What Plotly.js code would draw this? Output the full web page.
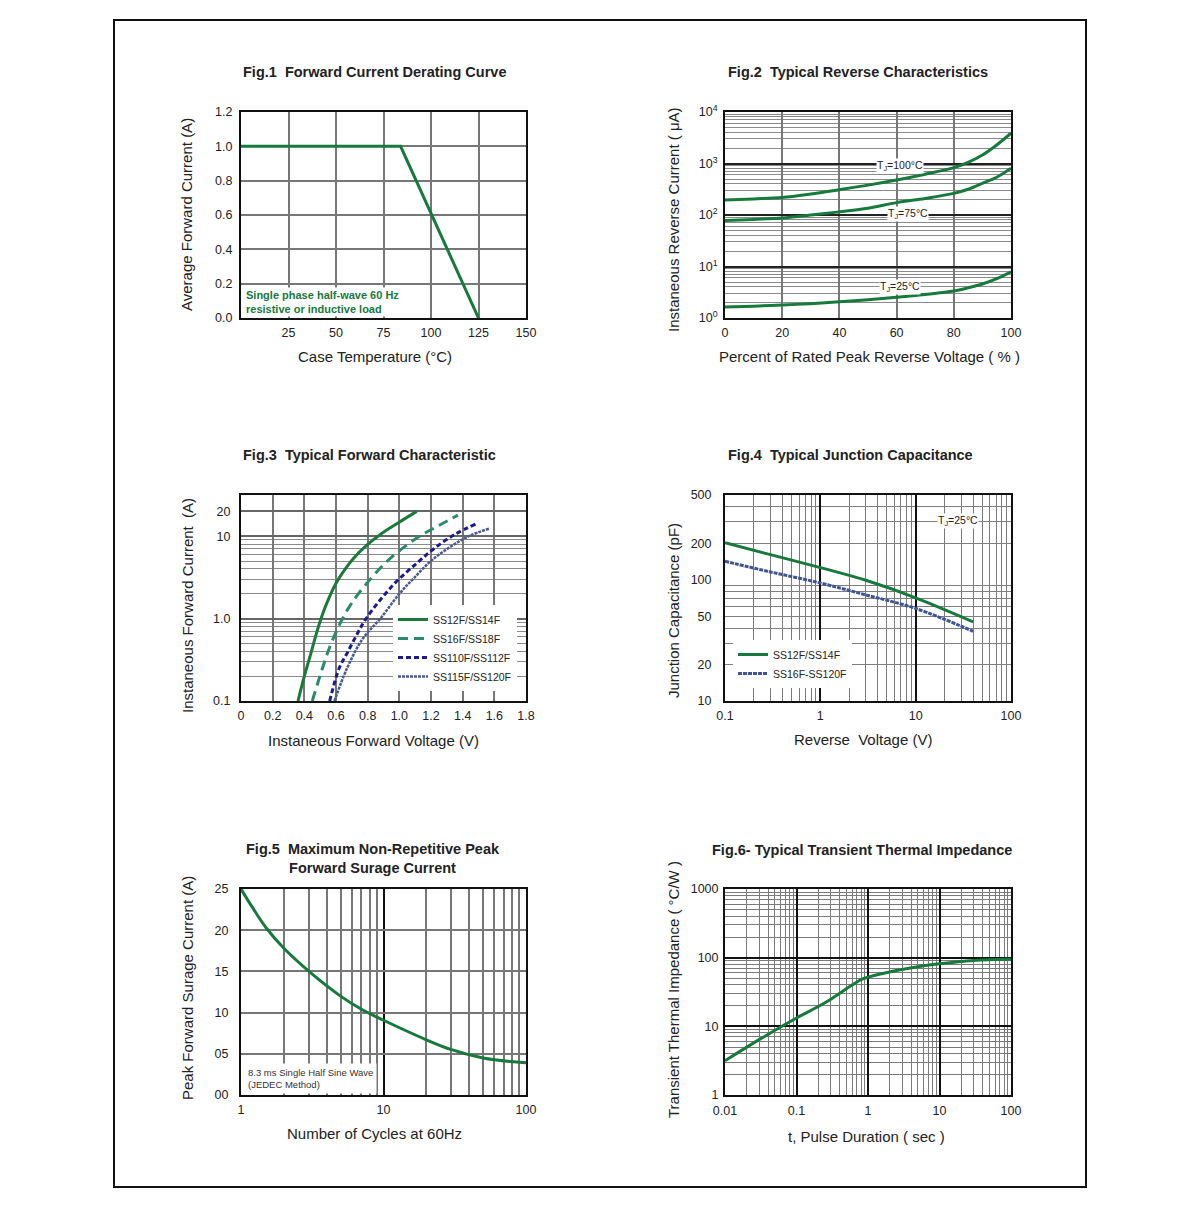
<!DOCTYPE html>
<html>
<head>
<meta charset="utf-8">
<script src="https://cdn.plot.ly/plotly-3.0.1.min.js"></script>
<style>html,body{margin:0;padding:0;background:#fff;}#chart{width:1200px;height:1214px;}</style>
</head>
<body>
<div id="chart"></div>
<script>
// ---------- DATA ----------
// Fig.1 Forward Current Derating Curve
const fig1Temp = [0, 84, 125];
const fig1Current = [1.0, 1.0, 0.0];
const fig1XTicks = [25, 50, 75, 100, 125, 150];
const fig1YTicks = [0, 0.2, 0.4, 0.6, 0.8, 1.0, 1.2];
const fig1YLabels = ['0.0', '0.2', '0.4', '0.6', '0.8', '1.0', '1.2'];

// Fig.2 Typical Reverse Characteristics
const fig2Pct = [0, 10, 20, 30, 40, 50, 60, 70, 80, 85, 90, 95, 100];
const fig2T100 = [195, 205, 218, 255, 310, 380, 478, 620, 830, 1050, 1460, 2290, 3870];
const fig2T75 = [78, 82, 87, 100, 115, 135, 174, 210, 263, 316, 413, 540, 810];
const fig2T25 = [1.64, 1.7, 1.78, 1.9, 2.07, 2.27, 2.52, 2.85, 3.33, 3.85, 4.57, 5.8, 7.9];
const fig2XTicks = [0, 20, 40, 60, 80, 100];
const fig2YTicks = [1, 10, 100, 1000, 10000];
const fig2YLabels = ['10<sup>0</sup>', '10<sup>1</sup>', '10<sup>2</sup>', '10<sup>3</sup>', '10<sup>4</sup>'];

// Fig.3 Typical Forward Characteristic
const fig3V_SS12 = [0.36, 0.40, 0.44, 0.47, 0.50, 0.54, 0.60, 0.65, 0.71, 0.80, 0.88, 1.00, 1.11];
const fig3I_SS12 = [0.1, 0.2, 0.37, 0.60, 0.93, 1.51, 2.69, 3.8, 5.37, 7.94, 10.5, 14.8, 20];
const fig3V_SS16 = [0.45, 0.52, 0.56, 0.62, 0.68, 0.75, 0.92, 1.11, 1.25, 1.37];
const fig3I_SS16 = [0.1, 0.27, 0.45, 0.83, 1.35, 2.1, 4.9, 9.5, 13.5, 18];
const fig3V_SS110 = [0.56, 0.62, 0.67, 0.73, 0.79, 0.96, 1.11, 1.22, 1.35, 1.49];
const fig3I_SS110 = [0.1, 0.25, 0.38, 0.63, 1.0, 2.55, 4.7, 7.1, 10.5, 14.3];
const fig3V_SS115 = [0.59, 0.67, 0.77, 0.88, 1.00, 1.09, 1.22, 1.43, 1.57];
const fig3I_SS115 = [0.1, 0.25, 0.575, 1.0, 2.0, 3.07, 5.4, 9.8, 12.4];
const fig3XTicks = [0, 0.2, 0.4, 0.6, 0.8, 1.0, 1.2, 1.4, 1.6, 1.8];
const fig3XLabels = ['0', '0.2', '0.4', '0.6', '0.8', '1.0', '1.2', '1.4', '1.6', '1.8'];
const fig3YTicks = [0.1, 1, 10, 20];
const fig3YLabels = ['0.1', '1.0', '10', '20'];
const fig3Names = ['SS12F/SS14F', 'SS16F/SS18F', 'SS110F/SS112F', 'SS115F/SS120F'];

// Fig.4 Typical Junction Capacitance
const fig4Volt = [0.1, 0.3, 1, 3, 10, 40];
const fig4SS12 = [202, 161, 126, 99, 71, 45];
const fig4SS16 = [142, 116, 94, 75, 58, 37.6];
const fig4XTicks = [0.1, 1, 10, 100];
const fig4YTicks = [10, 20, 50, 100, 200, 500];
const fig4Names = ['SS12F/SS14F', 'SS16F-SS120F'];

// Fig.5 Maximum Non-Repetitive Peak Forward Surge Current
const fig5Cycles = [1, 1.2, 1.5, 2, 3, 5, 7, 10, 20, 30, 50, 100];
const fig5Current = [25, 22.8, 20.3, 17.8, 15, 12, 10.4, 9.07, 6.7, 5.5, 4.5, 3.9];
const fig5XTicks = [1, 10, 100];
const fig5YTicks = [0, 5, 10, 15, 20, 25];
const fig5YLabels = ['00', '05', '10', '15', '20', '25'];

// Fig.6 Typical Transient Thermal Impedance
const fig6Time = [0.01, 0.03, 0.1, 0.25, 0.6, 0.8, 1, 2.3, 5, 10, 30, 100];
const fig6Z = [3.15, 6.4, 13.2, 22, 40, 48, 52, 64, 74, 81.6, 91, 94.6];
const fig6XTicks = [0.01, 0.1, 1, 10, 100];
const fig6YTicks = [1, 10, 100, 1000];

// ---------- LAYOUT HELPERS ----------
const W = 1200, H = 1214;
const FONT = 'Liberation Sans, Arial, Helvetica, sans-serif';
const GREEN = '#17793c';
function px(a) { return a / W; }
function py(b) { return 1 - b / H; }
function dx(a, b) { return [a / W, b / W]; }
function dy(top, bottom) { return [1 - bottom / H, 1 - top / H]; }
function logMinors(from, to) {
  const out = [];
  for (let e = from; e < to; e++) {
    for (let k = 2; k <= 9; k++) out.push(k * Math.pow(10, e));
  }
  return out;
}

const baseAxis = {
  showline: true, mirror: true, linecolor: '#111', linewidth: 2,
  ticks: '', zeroline: false, showgrid: true, fixedrange: true,
  tickfont: { family: FONT, size: 12.5, color: '#222' },
  gridcolor: '#777', gridwidth: 2, tickmode: 'array'
};
function ax(extra) { return Object.assign({}, baseAxis, extra); }

// ---------- TRACES ----------
const traces = [
  { x: fig1Temp, y: fig1Current, xaxis: 'x', yaxis: 'y', mode: 'lines',
    line: { color: GREEN, width: 3 }, showlegend: false },

  { x: fig2Pct, y: fig2T100, xaxis: 'x2', yaxis: 'y2', mode: 'lines',
    line: { color: GREEN, width: 3, shape: 'spline' }, showlegend: false },
  { x: fig2Pct, y: fig2T75, xaxis: 'x2', yaxis: 'y2', mode: 'lines',
    line: { color: GREEN, width: 3, shape: 'spline' }, showlegend: false },
  { x: fig2Pct, y: fig2T25, xaxis: 'x2', yaxis: 'y2', mode: 'lines',
    line: { color: GREEN, width: 3, shape: 'spline' }, showlegend: false },

  { x: fig3V_SS12, y: fig3I_SS12, xaxis: 'x3', yaxis: 'y3', mode: 'lines', name: fig3Names[0],
    line: { color: '#1a7a3a', width: 3, shape: 'spline' }, legend: 'legend' },
  { x: fig3V_SS16, y: fig3I_SS16, xaxis: 'x3', yaxis: 'y3', mode: 'lines', name: fig3Names[1],
    line: { color: '#2b8a6c', width: 3, dash: '10px,6px', shape: 'spline' }, legend: 'legend' },
  { x: fig3V_SS110, y: fig3I_SS110, xaxis: 'x3', yaxis: 'y3', mode: 'lines', name: fig3Names[2],
    line: { color: '#1b1b8e', width: 3, dash: '5px,3px', shape: 'spline' }, legend: 'legend' },
  { x: fig3V_SS115, y: fig3I_SS115, xaxis: 'x3', yaxis: 'y3', mode: 'lines', name: fig3Names[3],
    line: { color: '#4a5a8e', width: 2.5, dash: '3px,1px', shape: 'spline' }, legend: 'legend' },

  { x: fig4Volt, y: fig4SS12, xaxis: 'x4', yaxis: 'y4', mode: 'lines', name: fig4Names[0],
    line: { color: '#17793c', width: 3, shape: 'spline' }, legend: 'legend2' },
  { x: fig4Volt, y: fig4SS16, xaxis: 'x4', yaxis: 'y4', mode: 'lines', name: fig4Names[1],
    line: { color: '#3f5590', width: 3, dash: '4px,1px', shape: 'spline' }, legend: 'legend2' },

  { x: fig5Cycles, y: fig5Current, xaxis: 'x5', yaxis: 'y5', mode: 'lines',
    line: { color: GREEN, width: 3, shape: 'spline' }, showlegend: false },

  { x: fig6Time, y: fig6Z, xaxis: 'x6', yaxis: 'y6', mode: 'lines',
    line: { color: GREEN, width: 3, shape: 'spline' }, showlegend: false }
];

// ---------- AXES ----------
const layout = {
  width: W, height: H,
  margin: { l: 0, r: 0, t: 0, b: 0 },
  paper_bgcolor: '#fff', plot_bgcolor: '#fff',
  font: { family: FONT, color: '#222' },
  showlegend: true,

  xaxis: ax({ domain: dx(241, 526), anchor: 'y', range: [0, 150], tickvals: fig1XTicks,
    ticklabelstandoff: 2 }),
  yaxis: ax({ domain: dy(112, 318), anchor: 'x', range: [0, 1.2], tickvals: fig1YTicks,
    ticktext: fig1YLabels, ticklabelstandoff: 4 }),

  xaxis2: ax({ domain: dx(725, 1011), anchor: 'y2', range: [0, 100], tickvals: fig2XTicks,
    ticklabelstandoff: 2 }),
  yaxis2: ax({ domain: dy(112, 318), anchor: 'x2', type: 'log', range: [0, 4], tickvals: fig2YTicks,
    ticktext: fig2YLabels, gridcolor: '#222', gridwidth: 1.5, ticklabelstandoff: 3,
    minor: { tickmode: 'array', tickvals: logMinors(0, 4), showgrid: true, gridcolor: '#8a8a8a', gridwidth: 1 } }),

  xaxis3: ax({ domain: dx(241, 526), anchor: 'y3', range: [0, 1.8], tickvals: fig3XTicks,
    ticktext: fig3XLabels, ticklabelstandoff: 2 }),
  yaxis3: ax({ domain: dy(495, 701), anchor: 'x3', type: 'log', range: [-1, 1.5], tickvals: fig3YTicks,
    ticktext: fig3YLabels, gridcolor: '#666', gridwidth: 1.5, ticklabelstandoff: 6,
    minor: { tickmode: 'array', tickvals: logMinors(-1, 1), showgrid: true, gridcolor: '#8a8a8a', gridwidth: 1 } }),

  xaxis4: ax({ domain: dx(725, 1011), anchor: 'y4', type: 'log', range: [-1, 2], tickvals: fig4XTicks,
    ticktext: ['0.1', '1', '10', '100'], gridcolor: '#111', gridwidth: 2, ticklabelstandoff: 2,
    minor: { tickmode: 'array', tickvals: logMinors(-1, 2), showgrid: true, gridcolor: '#7a7a7a', gridwidth: 1.2 } }),
  yaxis4: ax({ domain: dy(495, 701), anchor: 'x4', type: 'log', range: [1, Math.log10(500)], tickvals: fig4YTicks,
    ticktext: fig4YTicks.map(String), showgrid: false, ticklabelstandoff: 9,
    minor: { tickmode: 'array', tickvals: [20, 30, 40, 50, 60, 70, 80, 90, 200, 300, 400], showgrid: true, gridcolor: '#7f7f7f', gridwidth: 1.2 } }),

  xaxis5: ax({ domain: dx(241, 526), anchor: 'y5', type: 'log', range: [0, 2], tickvals: fig5XTicks,
    ticktext: ['1', '10', '100'], gridcolor: '#111', gridwidth: 2, ticklabelstandoff: 2,
    minor: { tickmode: 'array', tickvals: logMinors(0, 2), showgrid: true, gridcolor: '#777', gridwidth: 1.5 } }),
  yaxis5: ax({ domain: dy(889, 1095), anchor: 'x5', range: [0, 25], tickvals: fig5YTicks,
    ticktext: fig5YLabels, gridcolor: '#777', gridwidth: 1.5, ticklabelstandoff: 8 }),

  xaxis6: ax({ domain: dx(725, 1011), anchor: 'y6', type: 'log', range: [-2, 2], tickvals: fig6XTicks,
    ticktext: ['0.01', '0.1', '1', '10', '100'], gridcolor: '#111', gridwidth: 2, ticklabelstandoff: 3,
    minor: { tickmode: 'array', tickvals: logMinors(-2, 2), showgrid: true, gridcolor: '#7a7a7a', gridwidth: 1.2 } }),
  yaxis6: ax({ domain: dy(889, 1095), anchor: 'x6', type: 'log', range: [0, 3], tickvals: fig6YTicks,
    ticktext: ['1', '10', '100', '1000'], gridcolor: '#111', gridwidth: 2, ticklabelstandoff: 2,
    minor: { tickmode: 'array', tickvals: logMinors(0, 3), showgrid: true, gridcolor: '#7a7a7a', gridwidth: 1.2 } }),

  legend: { x: px(393), y: py(605), xanchor: 'left', yanchor: 'top', bgcolor: '#fff',
    font: { family: FONT, size: 10.5, color: '#222' }, borderwidth: 0, tracegroupgap: 0, itemwidth: 30 },
  legend2: { x: px(733), y: py(640), xanchor: 'left', yanchor: 'top', bgcolor: '#fff',
    font: { family: FONT, size: 10.5, color: '#222' }, borderwidth: 0, tracegroupgap: 0, itemwidth: 30 },

  shapes: [
    { type: 'rect', xref: 'paper', yref: 'paper', x0: px(114), x1: px(1086), y0: py(1187), y1: py(20),
      line: { color: '#111', width: 2 }, fillcolor: 'rgba(0,0,0,0)' },
    // darker decade gridline at 100 pF (grid styling, drawn beneath the curves)
    { type: 'line', xref: 'x4 domain', yref: 'y4', x0: 0, x1: 1, y0: 2, y1: 2, layer: 'below',
      line: { color: '#111', width: 2 } }
  ],
  annotations: []
};

function addText(text, x, y, opts) {
  layout.annotations.push(Object.assign({
    text: text, x: px(x), y: py(y), xref: 'paper', yref: 'paper', showarrow: false,
    xanchor: 'center', yanchor: 'middle',
    font: { family: FONT, size: 15, color: '#222' }
  }, opts || {}));
}

// Figure titles
const titleFont = { family: FONT, size: 14.5, color: '#222' };
addText('<b>Fig.1  Forward Current Derating Curve</b>', 241, 72, { xanchor: 'left', font: titleFont });
addText('<b>Fig.2  Typical Reverse Characteristics</b>', 726, 72, { xanchor: 'left', font: titleFont });
addText('<b>Fig.3  Typical Forward Characteristic</b>', 241, 455, { xanchor: 'left', font: titleFont });
addText('<b>Fig.4  Typical Junction Capacitance</b>', 726, 455, { xanchor: 'left', font: titleFont });
addText('<b>Fig.5  Maximum Non-Repetitive Peak<br>Forward Surage Current</b>', 373, 858, { font: titleFont });
addText('<b>Fig.6- Typical Transient Thermal Impedance</b>', 710, 850, { xanchor: 'left', font: titleFont });

// Axis titles
addText('Case Temperature (°C)', 375, 356);
addText('Average Forward Current (A)', 187, 215, { textangle: -90 });
addText('Percent of Rated Peak Reverse Voltage ( % )', 869, 357);
addText('Instaneous Reverse Current ( μA)', 673, 220, { textangle: -90 });
addText('Instaneous Forward Voltage (V)', 373, 740);
addText('Instaneous Forward Current  (A)', 187, 606, { textangle: -90 });
addText('Reverse  Voltage (V)', 863, 739);
addText('Junction Capacitance (pF)', 673, 611, { textangle: -90 });
addText('Number of Cycles at 60Hz', 374, 1133);
addText('Peak Forward Surage Current (A)', 187, 988, { textangle: -90 });
addText('t, Pulse Duration ( sec )', 866, 1136);
addText('Transient Thermal Impedance ( °C/W )', 673, 990, { textangle: -90 });

// In-plot notes
addText('<b>Single phase half-wave 60 Hz<br>resistive or inductive load</b>', 244, 287, {
  xanchor: 'left', yanchor: 'top', align: 'left', bgcolor: '#fff', borderpad: 1,
  font: { family: FONT, size: 11, color: '#17793c' } });
const tjFont = { family: FONT, size: 10.5, color: '#222' };
addText('T<sub>J</sub>=100°C', 900, 166, { bgcolor: '#fff', borderpad: 0, font: tjFont });
addText('T<sub>J</sub>=75°C', 908, 214, { bgcolor: '#fff', borderpad: 0, font: tjFont });
addText('T<sub>J</sub>=25°C', 900, 287, { bgcolor: '#fff', borderpad: 0, font: tjFont });
addText('T<sub>J</sub>=25°C', 958, 521, { bgcolor: '#fff', borderpad: 0, font: tjFont });
addText('8.3 ms Single Half Sine Wave<br>(JEDEC Method)', 244, 1063, {
  xanchor: 'left', yanchor: 'top', align: 'left', bgcolor: '#fff', borderpad: 3,
  font: { family: FONT, size: 9.5, color: '#333' } });

Plotly.newPlot('chart', traces, layout, { displayModeBar: false });
</script>
</body>
</html>
